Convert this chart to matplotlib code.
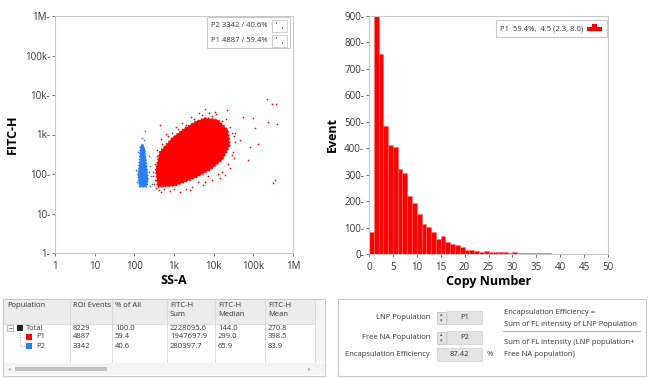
import numpy as np
import matplotlib
matplotlib.use('Agg')
import matplotlib.pyplot as plt
from matplotlib.patches import Rectangle, Polygon
from matplotlib.lines import Line2D

plt.rcParams['font.family'] = ['Open Sans', 'DejaVu Sans']

# ---- data ----
# scatter: dense cores as outlines (log10 SS-A, log10 FITC-H) + sparse points
p1_core_lx = [2.59, 3.02, 3.53, 3.90, 4.21, 4.41, 4.36, 4.11, 3.78, 3.53, 3.27, 2.95, 2.64, 2.54]
p1_core_ly = [1.67, 1.70, 1.90, 2.10, 2.35, 2.73, 3.11, 3.37, 3.42, 3.32, 3.16, 2.91, 2.56, 2.10]
p2_core_lx = [2.13, 2.31, 2.35, 2.31, 2.27, 2.22, 2.15, 2.13, 2.09]
p2_core_ly = [1.67, 1.67, 1.85, 2.23, 2.61, 2.76, 2.71, 2.35, 1.97]
p1_pts_lx = [5.34, 5.47, 5.57, 3.78, 4.33, 4.74, 4.99, 5.37, 5.59, 2.64, 5.49, 5.54, 4.91, 5.11,
             4.66, 4.53, 4.46, 4.21, 3.78, 3.40, 4.86, 5.04, 4.03,
             2.50, 2.48, 2.52, 2.58, 2.70, 2.85, 2.95, 3.10, 3.30, 3.50, 3.70, 3.95, 4.20, 4.40,
             4.50, 4.48, 4.35, 4.10, 3.85, 3.60, 3.30, 3.00, 2.75, 2.62, 2.55,
             2.46, 2.56, 2.66, 2.80, 3.05, 3.20, 3.42, 3.62, 3.88, 4.05, 4.30, 4.45, 4.55, 4.52,
             4.42, 4.28, 4.15, 3.95, 3.72, 3.45, 3.15, 2.90, 2.68, 2.53]
p1_pts_ly = [3.90, 3.77, 3.77, 3.65, 3.62, 3.44, 3.42, 3.32, 3.27, 3.24, 1.77, 1.85, 2.68, 2.76,
             2.86, 3.04, 2.48, 2.05, 1.80, 1.59, 2.35, 3.16, 3.57,
             1.75, 1.95, 2.25, 2.45, 2.75, 2.95, 3.05, 3.15, 3.25, 3.40, 3.50, 3.48, 3.35, 3.20,
             2.95, 2.55, 2.25, 2.00, 1.95, 1.80, 1.62, 1.62, 1.62, 1.60, 1.65,
             2.05, 2.62, 2.88, 3.02, 3.20, 3.30, 3.45, 3.55, 3.55, 3.52, 3.40, 3.05, 2.80, 2.40,
             2.15, 1.98, 1.90, 1.85, 1.72, 1.68, 1.55, 1.57, 1.55, 1.85]
p2_pts_lx = [2.40, 2.42, 2.45, 2.38, 2.05, 2.10, 2.25, 2.27, 2.36, 2.39, 2.06, 2.19]
p2_pts_ly = [2.20, 1.95, 1.75, 2.45, 2.10, 2.55, 2.85, 3.09, 2.05, 1.70, 1.80, 2.90]

# histogram of copy number (bins of width 1, 0..50)
copy_bins = list(range(0, 50))
event_counts = [82, 900, 755, 485, 413, 403, 321, 307, 219, 194, 151, 112, 103, 82, 55, 67,
                44, 36, 33, 25, 14, 14, 13, 7, 10, 9, 8, 8, 6, 5, 8, 2, 2, 3, 5, 4, 2, 4, 1,
                1, 1, 1, 1, 1, 1, 1, 1, 1, 1, 1]

log_ticks = [1, 10, 100, 1e3, 1e4, 1e5, 1e6]
log_labels = ['1', '10', '100', '1k', '10k', '100k', '1M']

table_cols = ['Population', 'ROI Events', '% of All', 'FITC-H\nSum', 'FITC-H\nMedian', 'FITC-H\nMean']
table_rows = [['Total', '8229', '100.0', '2228095.6', '144.0', '270.8'],
              ['P1', '4887', '59.4', '1947697.9', '299.0', '398.5'],
              ['P2', '3342', '40.6', '280397.7', '65.9', '83.9']]

RED = '#ff0000'
BLUE = '#2a7ff5'
GRID = '#c8c8c8'
TXT = '#333333'
W, H = 650, 378

fig = plt.figure(figsize=(6.5, 3.78), dpi=100)


def px(x, y):
    return x / W, 1 - y / H


def box(x0, y_top, w, h, **kw):
    fig.patches.append(Rectangle(px(x0, y_top + h), w / W, h / H, transform=fig.transFigure, **kw))


def style_axes(ax):
    for s in ax.spines.values():
        s.set_color(GRID)
        s.set_linewidth(0.8)
    ax.tick_params(labelsize=7, colors='#555555', length=2.5, width=0.6, labelcolor=TXT)


# ---- scatter ----
ax1 = fig.add_axes([55 / W, 1 - 253 / H, 238 / W, 237 / H])
ax1.set_xscale('log')
ax1.set_yscale('log')
ax1.add_patch(Polygon(np.column_stack([10 ** np.array(p1_core_lx), 10 ** np.array(p1_core_ly)]),
                      closed=True, fc=RED, ec=RED, lw=1.3, ls=(0, (0.8, 1.2))))
ax1.add_patch(Polygon(np.column_stack([10 ** np.array(p2_core_lx), 10 ** np.array(p2_core_ly)]),
                      closed=True, fc=BLUE, ec=BLUE, lw=1.1, ls=(0, (0.8, 1.2))))
ax1.scatter(10 ** np.array(p1_pts_lx), 10 ** np.array(p1_pts_ly), s=1.5, c=RED, lw=0)
ax1.scatter(10 ** np.array(p2_pts_lx), 10 ** np.array(p2_pts_ly), s=1.5, c=BLUE, lw=0)
ax1.set_xlim(1, 1e6)
ax1.set_ylim(1, 1e6)
ax1.set_xticks(log_ticks, log_labels)
ax1.set_yticks(log_ticks, [l + '-' for l in log_labels])
ax1.minorticks_off()
ax1.tick_params(axis='y', length=0, pad=1)
style_axes(ax1)
ax1.set_xlabel('SS-A', fontsize=9, fontweight='bold', labelpad=1)
ax1.set_ylabel('FITC-H', fontsize=9, fontweight='bold', labelpad=4)

# scatter legend
box(207, 17, 83, 31, fc='white', ec=GRID, lw=0.8)
for ty, txt in [(25.5, 'P2 3342 / 40.6%'), (40.5, 'P1 4887 / 59.4%')]:
    fig.text(*px(211, ty), txt, fontsize=5.5, va='center', color=TXT)
    box(272, ty - 6, 15, 12, fc='white', ec=GRID, lw=0.6)
    box(276, ty - 3, 1, 1, fc='#888888', ec='none')
    box(282, ty + 2, 1, 1, fc='#888888', ec='none')

# ---- histogram ----
ax2 = fig.add_axes([369 / W, 1 - 254 / H, 239 / W, 238 / H])
ax2.bar(copy_bins, event_counts, width=1, align='edge', color=RED, edgecolor='#ff7070', lw=0.4)
ax2.set_xlim(0, 50)
ax2.set_ylim(0, 900)
ax2.set_xticks(range(0, 51, 5))
ax2.set_yticks(range(0, 901, 100), [f'{v}-' for v in range(0, 901, 100)])
ax2.tick_params(axis='y', length=0, pad=1)
style_axes(ax2)
ax2.set_xlabel('Copy Number', fontsize=9, fontweight='bold', labelpad=1)
ax2.set_ylabel('Event', fontsize=9, fontweight='bold', labelpad=4)

box(496, 20, 111, 17, fc='white', ec=GRID, lw=0.8)
fig.text(*px(500, 28.5), 'P1  59.4%,  4.5 (2.3, 8.0)', fontsize=5.5, va='center', color=TXT)
for dx, dy in [(587, 27), (592, 24), (597, 27), (592, 27)]:
    box(dx, dy, 5, 4, fc=RED, ec='none')

# ---- left table panel ----
box(3, 299, 322, 77, fc='white', ec=GRID, lw=0.8)
box(4, 300, 311, 24, fc='#ececec', ec='none')
col_x = [4, 70, 112, 167, 215, 265, 315]
for cx in col_x[1:]:
    fig.add_artist(Line2D([cx / W, cx / W], [1 - 300 / H, 1 - 362 / H], color='#d4d4d4', lw=0.6))
fig.add_artist(Line2D([4 / W, 315 / W], [1 - 324 / H] * 2, color='#d4d4d4', lw=0.6))
for i, name in enumerate(table_cols):
    fig.text(*px(col_x[i] + 3, 302), name, fontsize=5.5, va='top', color=TXT, linespacing=1.3)
row_y = [328, 337, 346]
for r, row in enumerate(table_rows):
    for i, val in enumerate(row):
        x0 = col_x[i] + 3
        if i == 0:
            x0 = 26 if r == 0 else 36
        fig.text(*px(x0, row_y[r]), val, fontsize=5.5, va='center', color=TXT)
# tree markers
box(7, 325, 6, 6, fc='white', ec='#999999', lw=0.5)
fig.add_artist(Line2D([8.5 / W, 11.5 / W], [1 - 328 / H] * 2, color='#555555', lw=0.5))
for r, c in [(0, '#222222'), (1, RED), (2, BLUE)]:
    x0 = 17 if r == 0 else 26
    box(x0, row_y[r] - 3, 6, 6, fc=c, ec='none')
fig.add_artist(Line2D([20 / W, 20 / W], [1 - 331 / H, 1 - 346 / H], color='#999999', lw=0.5, ls=':'))
for r in (1, 2):
    fig.add_artist(Line2D([20 / W, 25 / W], [1 - row_y[r] / H] * 2, color='#999999', lw=0.5, ls=':'))
# scrollbars
box(315, 300, 9, 62, fc='#f4f4f4', ec='none')
box(4, 363, 320, 12, fc='#f4f4f4', ec='none')
box(15, 367, 92, 4, fc='#c2c2c2', ec='none')
fig.text(*px(8, 369), '◂', fontsize=4, va='center', color='#aaaaaa')
fig.text(*px(308, 369), '▸', fontsize=4, va='center', color='#aaaaaa')

# ---- right panel ----
box(338, 299, 308, 77, fc='white', ec=GRID, lw=0.8)
for ty, lab, val in [(317.5, 'LNP Population', 'P1'), (337.5, 'Free NA Population', 'P2')]:
    fig.text(*px(430, ty), lab, fontsize=5.5, ha='right', va='center', color=TXT)
    box(437, ty - 6, 9, 12, fc='#e4e4e4', ec='#bdbdbd', lw=0.5)
    fig.text(*px(441.5, ty - 3), '▴', fontsize=3.5, ha='center', va='center', color='#555555')
    fig.text(*px(441.5, ty + 3), '▾', fontsize=3.5, ha='center', va='center', color='#555555')
    box(447, ty - 6.5, 35, 13, fc='#e4e4e4', ec='#cfcfcf', lw=0.5)
    fig.text(*px(464.5, ty), val, fontsize=5.5, ha='center', va='center', color=TXT)
fig.text(*px(430, 354), 'Encapsulation Efficiency', fontsize=5.5, ha='right', va='center', color=TXT)
box(437, 347.5, 45, 13, fc='#e4e4e4', ec='#cfcfcf', lw=0.5)
fig.text(*px(459.5, 354), '87.42', fontsize=5.5, ha='center', va='center', color=TXT)
fig.text(*px(487, 354), '%', fontsize=5.5, va='center', color=TXT)
fig.text(*px(504, 313), 'Encapsulation Efficiency =', fontsize=5.5, va='center', color=TXT)
fig.text(*px(504, 324), 'Sum of FL intensity of LNP Population', fontsize=5.5, va='center', color=TXT)
fig.add_artist(Line2D([503 / W, 640 / W], [1 - 331 / H] * 2, color='#999999', lw=0.6))
fig.text(*px(504, 343), 'Sum of FL intensity (LNP population+', fontsize=5.5, va='center', color=TXT)
fig.text(*px(504, 354), 'Free NA population)', fontsize=5.5, va='center', color=TXT)

fig.savefig('out.png', dpi=100)
